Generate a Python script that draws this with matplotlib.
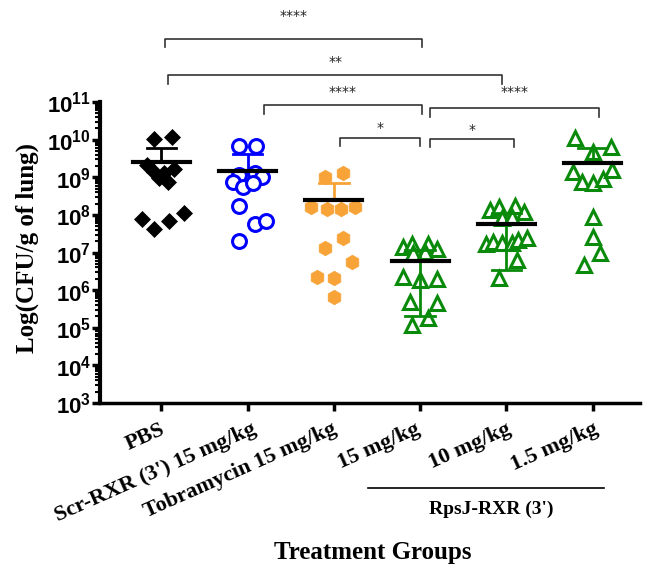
import numpy as np
import matplotlib
matplotlib.use('Agg')
import matplotlib.pyplot as plt
import matplotlib.transforms as mtransforms

plt.rcParams['mathtext.fontset'] = 'custom'
plt.rcParams['mathtext.bf'] = 'Liberation Sans:bold'
plt.rcParams['mathtext.rm'] = 'Liberation Sans'

# ---------------- data (CFU / g of lung) ----------------
groups = ["PBS", "Scr-RXR (3') 15 mg/kg", "Tobramycin 15 mg/kg",
          "15 mg/kg", "10 mg/kg", "1.5 mg/kg"]

pbs = [1.05e10, 1.2e10, 2.1e9, 1.4e9, 9.5e8, 7.4e8, 1.7e9, 1.3e9,
       7.8e7, 4.2e7, 6.9e7, 1.1e8]
scr = [6.8e9, 6.8e9, 1.15e9, 1.3e9, 1.0e9, 7.4e8, 5.5e8, 7.1e8,
       1.7e8, 5.8e7, 6.9e7, 2.0e7]
tobra = [1.0e9, 1.3e9, 1.6e8, 1.4e8, 1.4e8, 1.6e8, 2.4e7, 1.3e7,
         5.5e6, 2.3e6, 2.1e6, 6.5e5]
rpsj15 = [1.38e7, 1.66e7, 1.66e7, 1.23e7, 9.5e6, 1.02e7, 2.2e6, 1.9e6,
          1.95e6, 4.8e5, 4.5e5, 1.8e5, 1.2e5]
rpsj10 = [1.35e8, 1.6e8, 1.7e8, 1.2e8, 8.1e7, 8.7e7, 1.7e7, 1.9e7,
          1.8e7, 1.75e7, 2.1e7, 2.4e7, 6.3e6, 2.1e6]
rpsj1_5 = [1.1e10, 6.3e9, 4.7e9, 1.38e9, 7.4e8, 7.1e8, 8.9e8, 1.55e9,
           8.7e7, 2.6e7, 9.5e6, 4.6e6]

group_means = [2.5e9, 1.5e9, 2.45e8, 5.9e6, 5.8e7, 2.4e9]
group_sd = [3.5e9, 2.7e9, 4.6e8, 5.7e6, 5.45e7, 3.6e9]

# horizontal scatter of points within each group (group units)
jit_pbs = [-0.09, 0.12, -0.17, -0.09, -0.03, 0.07, 0.14, 0.03, -0.23, -0.09, 0.09, 0.26]
jit_scr = [-0.10, 0.10, -0.10, 0.08, 0.17, -0.17, -0.06, 0.06, -0.10, 0.09, 0.21, -0.10]
jit_tobra = [-0.10, 0.10, -0.26, -0.08, 0.08, 0.24, 0.10, -0.10, 0.21, -0.20, 0.0, 0.0]
jit_15 = [-0.20, -0.09, 0.09, 0.19, -0.08, 0.06, -0.20, 0.0, 0.20, -0.12, 0.20, 0.09, -0.10]
jit_10 = [-0.19, -0.09, 0.10, 0.20, -0.05, 0.07, -0.24, -0.15, -0.05, 0.07, 0.14, 0.24, 0.12, -0.09]
jit_1_5 = [-0.20, 0.21, 0.0, -0.23, -0.12, 0.0, 0.12, 0.23, 0.0, 0.0, 0.09, -0.10]

sig_pairs = [(0, 3), (0, 4), (1, 3), (3, 5), (2, 3), (3, 4)]
sig_labels = ["****", "**", "****", "****", "*", "*"]

# ---------------- figure ----------------
fig = plt.figure(figsize=(6.46, 5.70), dpi=100)
ax = fig.add_axes([100/646, 167/570, 540/646, 301/570])

series = [pbs, scr, tobra, rpsj15, rpsj10, rpsj1_5]
jitters = [jit_pbs, jit_scr, jit_tobra, jit_15, jit_10, jit_1_5]
green = '#0a8a0a'
orange = '#f7a338'
styles = [
    dict(marker='D', mfc='black', mec='black', ms=8, mew=0.5),
    dict(marker='o', mfc='white', mec='#0000ff', ms=10, mew=2.2),
    dict(marker='h', mfc=orange, mec=orange, ms=10.5, mew=0.5),
    dict(marker='^', mfc='white', mec=green, ms=10.5, mew=2.2),
    dict(marker='^', mfc='white', mec=green, ms=10.5, mew=2.2),
    dict(marker='^', mfc='white', mec=green, ms=10.5, mew=2.2),
]
err_colors = ['black', '#0000ff', orange, green, green, green]

for i, (vals, jit, st) in enumerate(zip(series, jitters, styles)):
    xs = i + np.array(jit)
    ax.plot(xs, vals, linestyle='none', zorder=3, **st)
    m, s = group_means[i], group_sd[i]
    lo = m - s
    hi = m + s
    c = err_colors[i]
    ax.plot([i, i], [m, hi], color=c, lw=2, zorder=4, solid_capstyle='butt')
    ax.plot([i - 0.17, i + 0.17], [hi, hi], color=c, lw=2, zorder=4)
    if lo > 0:
        ax.plot([i, i], [lo, m], color=c, lw=2, zorder=4, solid_capstyle='butt')
        ax.plot([i - 0.17, i + 0.17], [lo, lo], color=c, lw=2, zorder=4)
    ax.plot([i - 0.33, i + 0.33], [m, m], color='black', lw=3, zorder=5)

ax.set_yscale('log')
ax.set_ylim(1e3, 1e11)
ax.set_xlim(-0.713, 5.55)
ax.set_yticks([10.0**k for k in range(3, 12)])
ax.set_yticklabels([r'$\mathbf{10^{%d}}$' % k for k in range(3, 12)], fontsize=16)
ax.yaxis.set_minor_locator(matplotlib.ticker.LogLocator(base=10, subs=np.arange(2, 10)))
ax.yaxis.set_minor_formatter(matplotlib.ticker.NullFormatter())
ax.tick_params(axis='y', which='major', direction='out', length=6, width=2.5, pad=0.5)
ax.tick_params(axis='y', which='minor', direction='out', length=3.5, width=1.5)
ax.tick_params(axis='x', which='major', direction='out', length=6, width=2.5)
for sp in ['top', 'right']:
    ax.spines[sp].set_visible(False)
ax.spines['left'].set_linewidth(3)
ax.spines['bottom'].set_linewidth(2.5)

ax.set_xticks(range(len(groups)))
ax.set_xticklabels(groups, rotation=24, ha='right', va='top',
                   rotation_mode='anchor', fontsize=16,
                   family='Liberation Serif', fontweight='bold')
label_dx_px = [-2, 3, -2, -5, 0, 0]
for lab, dx in zip(ax.get_xticklabels(), label_dx_px):
    off = mtransforms.ScaledTranslation(dx/100, -3/100, fig.dpi_scale_trans)
    lab.set_transform(lab.get_transform() + off)

ax.set_ylabel('Log(CFU/g of lung)', family='Liberation Serif',
              fontweight='bold', fontsize=18)
ax.yaxis.set_label_coords(-0.113, 0.515)

# ---------------- significance brackets ----------------
trans = mtransforms.blended_transform_factory(ax.transData, fig.transFigure)
def fy(px):
    return 1 - px / 570.0

bracket_geo = [  # (x-left adj, x-right adj, y line px, drop px, text y px)
    (0.04, 0.02, 39, 8, 16),
    (0.08, -0.05, 75, 9, 62),
    (0.19, 0.02, 105, 9, 92),
    (0.12, 0.08, 108, 9, 92),
    (0.07, 0.0, 138, 8, 128),
    (0.12, 0.09, 139, 8, 130),
]
for (a, b), lab, (dl, dr, yl, dr_px, yt) in zip(sig_pairs, sig_labels, bracket_geo):
    x0, x1 = a + dl, b + dr
    ax.plot([x0, x0, x1, x1], [fy(yl + dr_px), fy(yl), fy(yl), fy(yl + dr_px)],
            color='#333333', lw=1.2, transform=trans, clip_on=False)
    ax.text((x0 + x1) / 2, fy(yt), lab, transform=trans, ha='center', va='center',
            fontsize=10, color='#222222')

# RpsJ group line and label
ax.plot([2.4, 5.13], [fy(488), fy(488)], color='black', lw=1.2,
        transform=trans, clip_on=False)
ax.text(3.82, fy(509), "RpsJ-RXR (3')", transform=trans, ha='center', va='center',
        family='Liberation Serif', fontweight='bold', fontsize=14)

fig.text(373/646, fy(553), 'Treatment Groups', ha='center', va='center',
         family='Liberation Serif', fontweight='bold', fontsize=18)

fig.savefig('out.png', dpi=100)
